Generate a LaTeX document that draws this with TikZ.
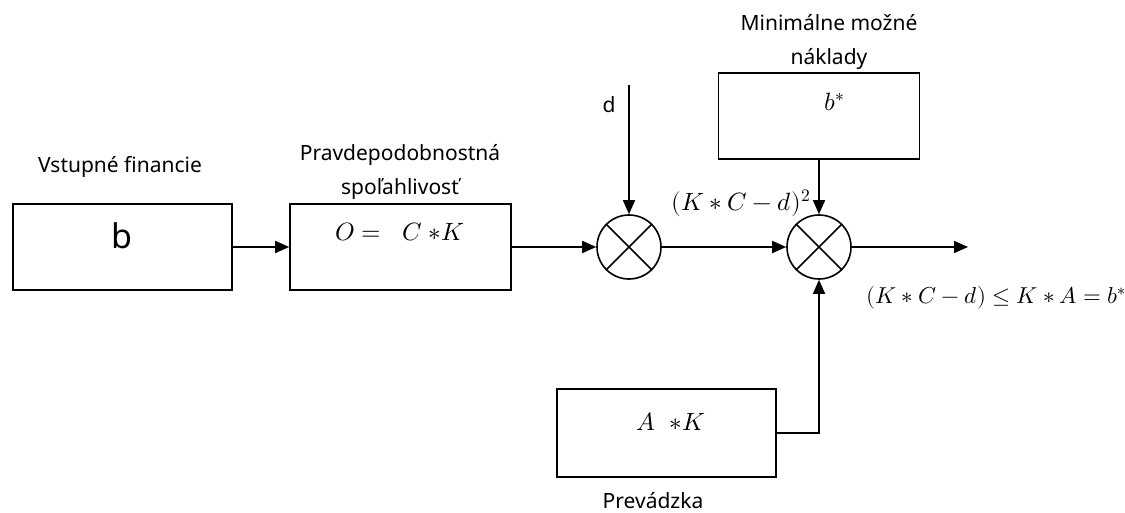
\documentclass[tikz,border=0pt]{standalone}
\usepackage{fontspec}
\usepackage{unicode-math}
\setmainfont{Noto Sans}
\setmathfont{Latin Modern Math}
\usetikzlibrary{arrows.meta}
\begin{document}
\begin{tikzpicture}[x=1pt, y=-1pt, line width=1.6pt,
  blk/.style={draw, minimum width=219pt, minimum height=86pt, inner sep=0pt},
  mix/.style={draw, circle, minimum size=64pt, inner sep=0pt},
  lbl/.style={font=\fontsize{21}{34}\selectfont, align=center, inner sep=0pt},
  eq/.style={font=\fontsize{25}{28}\selectfont, inner sep=0pt},
  big/.style={font=\fontsize{34}{40}\selectfont, inner sep=0pt},
  flow/.style={-{Triangle[length=14pt,width=12pt]}}]
\useasboundingbox (0,0) rectangle (1125,513);

% blocks
\node[blk] (fin) at (122.5,247) {};
\node[big] (finv) at (122,236) {b};
\node[lbl] (finl) at (120,167) {Vstupné financie};

\node[blk, minimum width=221pt] (rel) at (400.5,247) {};
\node[eq] (relv) at (400,232) {$O =\;\; C\;{\ast}K$};
\node[lbl] (rell) at (400,172) {Pravdepodobnostná\\spoľahlivosť};

\node[blk, minimum width=201pt] (cost) at (819,116) {};
\node[eq] (costv) at (835,102) {$b^{\ast}$};
\node[lbl] (costl) at (829,42) {Minimálne možné\\náklady};

\node[blk, minimum height=88pt] (op) at (666.5,433) {};
\node[eq] (opv) at (671,422) {$A\;\;{\ast}K$};
\node[lbl] (opl) at (653,501) {Prevádzka};

% multiplying junctions
\node[mix] (m1) at (629,247) {};
\node[mix] (m2) at (819,247) {};
\foreach \m in {m1,m2}
  \draw (\m.north west) -- (\m.south east) (\m.north east) -- (\m.south west);

\coordinate (din) at (629,85);
\coordinate (out) at (968,247);
\node[lbl] (dl) at (609,105) {d};
\node[eq] (sq) at (741,203) {$(K\ast C-d)^2$};
\node[eq, font=\fontsize{23}{26}\selectfont, anchor=west] (res) at (866,298) {$(K\ast C-d)\le K\ast A=b^{\ast}$};

% signal flow
\draw[flow] (fin) -- (rel);
\draw[flow] (rel) -- (m1);
\draw[flow] (din) -- (m1);
\draw[flow] (m1) -- (m2);
\draw[flow] (cost) -- (m2);
\draw[flow] (op.east) -| (m2.south);
\draw[flow] (m2) -- (out);
\end{tikzpicture}
\end{document}
